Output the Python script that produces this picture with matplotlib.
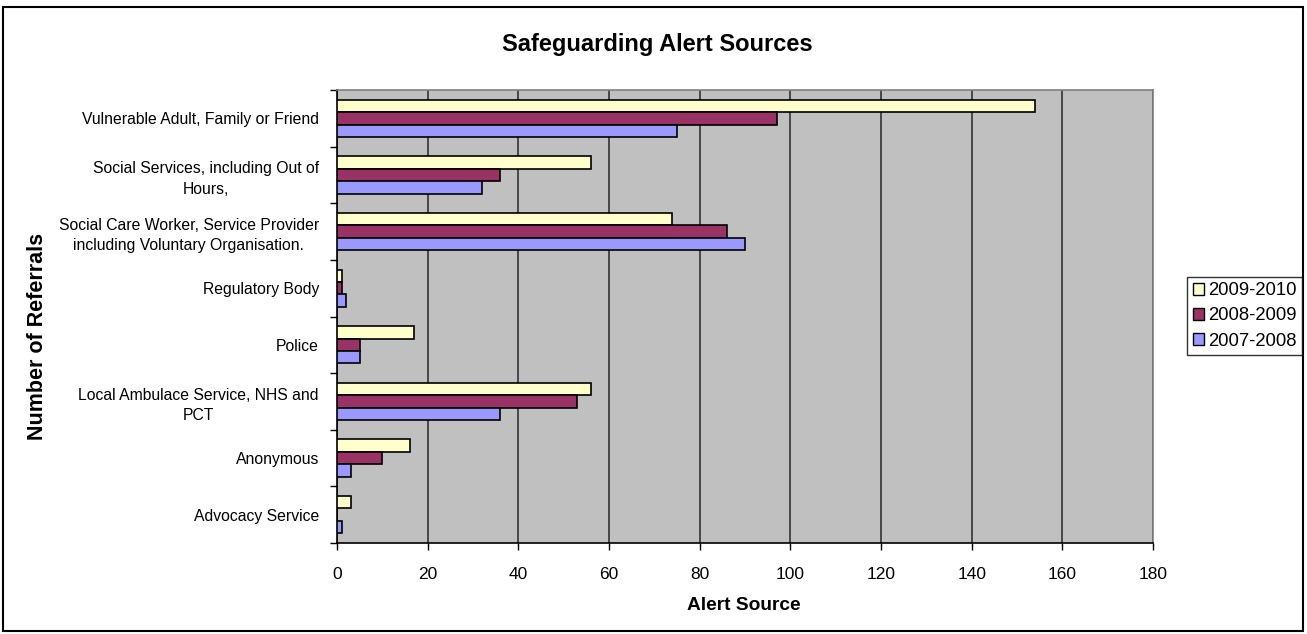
import matplotlib.pyplot as plt
import numpy as np
from matplotlib.patches import Rectangle

plt.rcParams['font.family'] = ['Liberation Sans', 'DejaVu Sans']

# categories listed top to bottom
categories = [
    "Vulnerable Adult, Family or Friend",
    "Social Services, including Out of\nHours,",
    "Social Care Worker, Service Provider\nincluding Voluntary Organisation.",
    "Regulatory Body",
    "Police",
    "Local Ambulace Service, NHS and\nPCT",
    "Anonymous",
    "Advocacy Service",
]
years = ["2009-2010", "2008-2009", "2007-2008"]
vals_0910 = [154, 56, 74, 1, 17, 56, 16, 3]
vals_0809 = [97, 36, 86, 1, 5, 53, 10, 0]
vals_0708 = [75, 32, 90, 2, 5, 36, 3, 1]
colors = ["#FFFFCC", "#993366", "#9999FF"]

W, H = 1307, 634
fig = plt.figure(figsize=(W / 100, H / 100), dpi=100)
ax = fig.add_axes([337 / W, 1 - 543 / H, 816 / W, 453 / H])
ax.set_facecolor("#C0C0C0")

n = len(categories)
ypos = np.arange(n)[::-1]  # first category at the top
h = 0.22
series = [vals_0910, vals_0809, vals_0708]
for i, (vals, col, lab) in enumerate(zip(series, colors, years)):
    ax.barh(ypos + h * (1 - i), vals, height=h, color=col, edgecolor="black",
            linewidth=1.2, label=lab, zorder=3)

ax.set_xlim(0, 180)
ax.set_ylim(-0.5, n - 0.5)
ax.set_xticks(np.arange(0, 181, 20))
ax.xaxis.grid(True, color="#333333", linewidth=1.2, zorder=1)
ax.tick_params(axis="x", direction="out", length=5, width=1, labelsize=12.5, pad=12)

ax.set_yticks(ypos)
ax.set_yticklabels(categories, fontsize=11.3, multialignment="center", linespacing=1.45)
ax.set_yticks(np.arange(-0.5, n, 1), minor=True)
ax.tick_params(axis="y", which="major", length=0, pad=13)
ax.tick_params(axis="y", which="minor", direction="out", length=5, width=1)

for side in ["top", "right"]:
    ax.spines[side].set_color("#808080")
    ax.spines[side].set_linewidth(1.2)
for side in ["left", "bottom"]:
    ax.spines[side].set_color("black")
    ax.spines[side].set_linewidth(1.2)

fig.text(744 / W, 1 - 606 / H, "Alert Source", ha="center", va="center",
         fontsize=13.8, fontweight="bold")
fig.text(38 / W, 1 - 336 / H, "Number of Referrals", ha="center", va="center",
         rotation=90, fontsize=15.5, fontweight="bold")
fig.text(657 / W, 1 - 44 / H, "Safeguarding Alert Sources", ha="center", va="center",
         fontsize=17, fontweight="bold")

handles = [Rectangle((0, 0), 1, 1, facecolor=c, edgecolor="black", linewidth=1) for c in colors]
leg = fig.legend(handles, years, loc="center left", bbox_to_anchor=(1187 / W, 1 - 316 / H),
                 fontsize=13.3, frameon=True, fancybox=False, handlelength=0.6, handleheight=0.6,
                 handletextpad=0.25, borderpad=0.3, labelspacing=0.45, borderaxespad=0)
leg.get_frame().set_edgecolor("black")
leg.get_frame().set_linewidth(1)

# outer chart border
fig.patches.append(Rectangle((3 / W, 3 / H), 1300 / W, 624 / H, transform=fig.transFigure,
                             fill=False, edgecolor="black", linewidth=1.5))

fig.savefig("out.png", dpi=100)
